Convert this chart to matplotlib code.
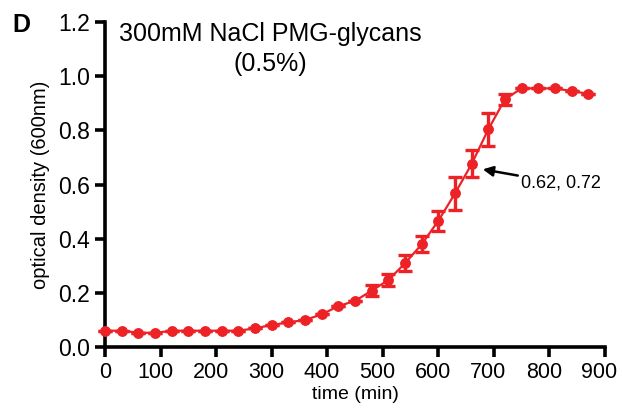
import matplotlib
matplotlib.use("Agg")
import matplotlib.pyplot as plt
import matplotlib.transforms as mtransforms
import numpy as np

plt.rcParams["font.family"] = ["Liberation Sans", "DejaVu Sans"]

# данные: время (мин), оптическая плотность и погрешность
time_min = [0, 30, 60, 90, 120, 150, 180, 210, 240, 270, 300, 330, 360, 390, 420,
            450, 480, 510, 540, 570, 600, 630, 660, 690, 720, 750, 780, 810, 840, 870]
od600 = [0.06, 0.06, 0.053, 0.052, 0.06, 0.06, 0.06, 0.06, 0.06, 0.069, 0.081, 0.091,
         0.10, 0.12, 0.151, 0.17, 0.208, 0.247, 0.309, 0.379, 0.466, 0.567, 0.676,
         0.804, 0.915, 0.955, 0.955, 0.955, 0.945, 0.935]
od_err = [0, 0, 0, 0, 0, 0, 0, 0, 0, 0, 0, 0, 0, 0, 0,
          0, 0.02, 0.022, 0.03, 0.03, 0.037, 0.06, 0.05, 0.06, 0.02, 0, 0, 0, 0, 0]

x_ticks = [0, 100, 200, 300, 400, 500, 600, 700, 800, 900]
y_ticks = [0.0, 0.2, 0.4, 0.6, 0.8, 1.0, 1.2]

red = "#ec2227"

fig = plt.figure(figsize=(6.22, 4.17), dpi=100)
ax = fig.add_axes([0.1688, 0.1679, 0.9727 - 0.1688, 0.9472 - 0.1679])

ax.errorbar(time_min, od600, yerr=od_err, color=red, marker="o", markersize=6.8,
            linewidth=1.6, elinewidth=2.4, capsize=5, capthick=2.4, clip_on=False,
            zorder=3)

ax.set_xlim(0, 900)
ax.set_ylim(0, 1.2)
ax.set_xticks(x_ticks)
ax.set_yticks(y_ticks)
ax.set_yticklabels([f"{v:.1f}" for v in y_ticks])

for side in ("top", "right"):
    ax.spines[side].set_visible(False)
for side in ("left", "bottom"):
    ax.spines[side].set_linewidth(2.6)
ax.tick_params(width=2.6, length=7, direction="out", pad=4)
ax.tick_params(axis="x", labelsize=15.5)
ax.tick_params(axis="y", labelsize=16.5)

# подписи оси X в оригинале чуть сдвинуты влево
shift = mtransforms.ScaledTranslation(-4 / 72, 0, fig.dpi_scale_trans)
for lbl, val in zip(ax.get_xticklabels(), x_ticks):
    if val > 0:
        lbl.set_transform(lbl.get_transform() + shift)

ax.set_xlabel("time (min)", fontsize=14, labelpad=2)
ax.set_ylabel("optical density (600nm)", fontsize=14.5, labelpad=6)

ax.text(0.33, 1.0, "300mM NaCl PMG-glycans\n(0.5%)", transform=ax.transAxes,
        ha="center", va="top", fontsize=18, linespacing=1.3)

ax.annotate("0.62, 0.72", xy=(680, 0.656), xytext=(748, 0.605),
            fontsize=13, va="center", ha="left",
            arrowprops=dict(arrowstyle="-|>", color="black", lw=1.8,
                            mutation_scale=15, shrinkA=0, shrinkB=0))

fig.text(0.035, 0.94, "D", fontsize=18, fontweight="bold", ha="center", va="center")

plt.savefig("out.png", dpi=100)
plt.close()
